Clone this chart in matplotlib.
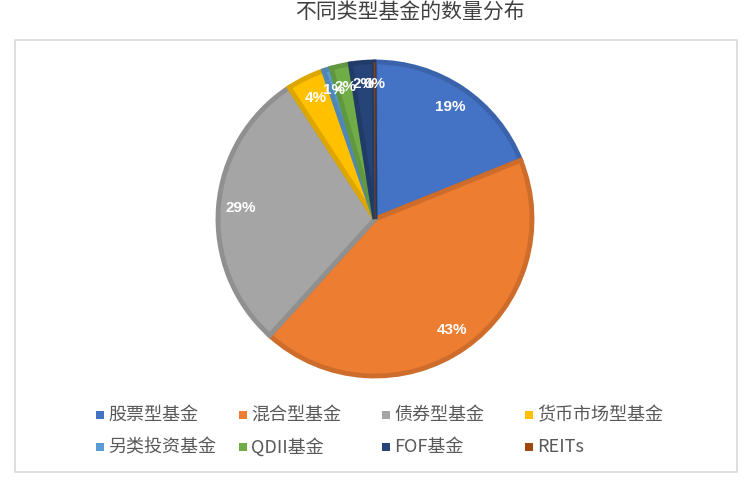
import matplotlib
matplotlib.use("Agg")
import numpy as np
import matplotlib.pyplot as plt
from matplotlib.patches import Rectangle
from matplotlib.colors import to_rgb

plt.rcParams['font.family'] = ['Noto Sans CJK SC', 'DejaVu Sans']

# Data (share of funds, %)
categories = ["股票型基金", "混合型基金", "债券型基金", "货币市场型基金",
              "另类投资基金", "QDII基金", "FOF基金", "REITs"]
shares = [18.9, 42.8, 29.1, 3.9, 0.8, 2.0, 2.4, 0.1]
colors = ["#4472C4", "#ED7D31", "#A5A5A5", "#FFC000",
          "#5B9BD5", "#70AD47", "#264478", "#9E480E"]
title = "不同类型基金的数量分布"

W, H = 753, 480
fig = plt.figure(figsize=(W / 100, H / 100), dpi=100)

# chart area border
fig.patches.append(Rectangle((15 / W, 1 - 472 / H), 722 / W, 432 / H,
                             transform=fig.transFigure, fill=False,
                             edgecolor="#d9d9d9", lw=1.2))

fig.text(410 / W, 1 - 13 / H, title, ha="center", va="center",
         fontsize=15, color="#404040")

# pie axes
cx, cy, R = 375, 219, 157
box = 165
ax = fig.add_axes([(cx - box) / W, 1 - (cy + box) / H, 2 * box / W, 2 * box / H])

def darker(c, f=0.87):
    r, g, b = to_rgb(c)
    return (r * f, g * f, b * f)

wedges, texts, autotexts = ax.pie(
    shares, colors=colors, startangle=90, counterclock=False, radius=R,
    autopct=lambda p: f"{p:.0f}%", pctdistance=0.86,
    wedgeprops=dict(linewidth=3.5),
    textprops=dict(color="white", fontsize=11, fontweight="bold",
                   family=["Liberation Sans", "DejaVu Sans"]))
for w, c in zip(wedges, colors):
    w.set_edgecolor(darker(c))
    # thin slivers get a thinner outline so the border does not swamp them
    arc_px = np.deg2rad(abs(w.theta2 - w.theta1)) * R
    w.set_linewidth(min(3.5, arc_px * 0.5))
ax.set_xlim(-box, box)
ax.set_ylim(-box, box)
ax.axis("off")

# legend
for i, (name, c) in enumerate(zip(categories, colors)):
    col, row = i % 4, i // 4
    x = 100 + 143 * col
    y = 415 + 32 * row
    fig.patches.append(Rectangle(((x - 4) / W, 1 - (y + 4) / H), 8 / W, 8 / H,
                                 transform=fig.transFigure, color=c, lw=0))
    fig.text((x + 8) / W, 1 - y / H, name, ha="left", va="center",
             fontsize=13, color="#595959")

fig.savefig("out.png", dpi=100)
